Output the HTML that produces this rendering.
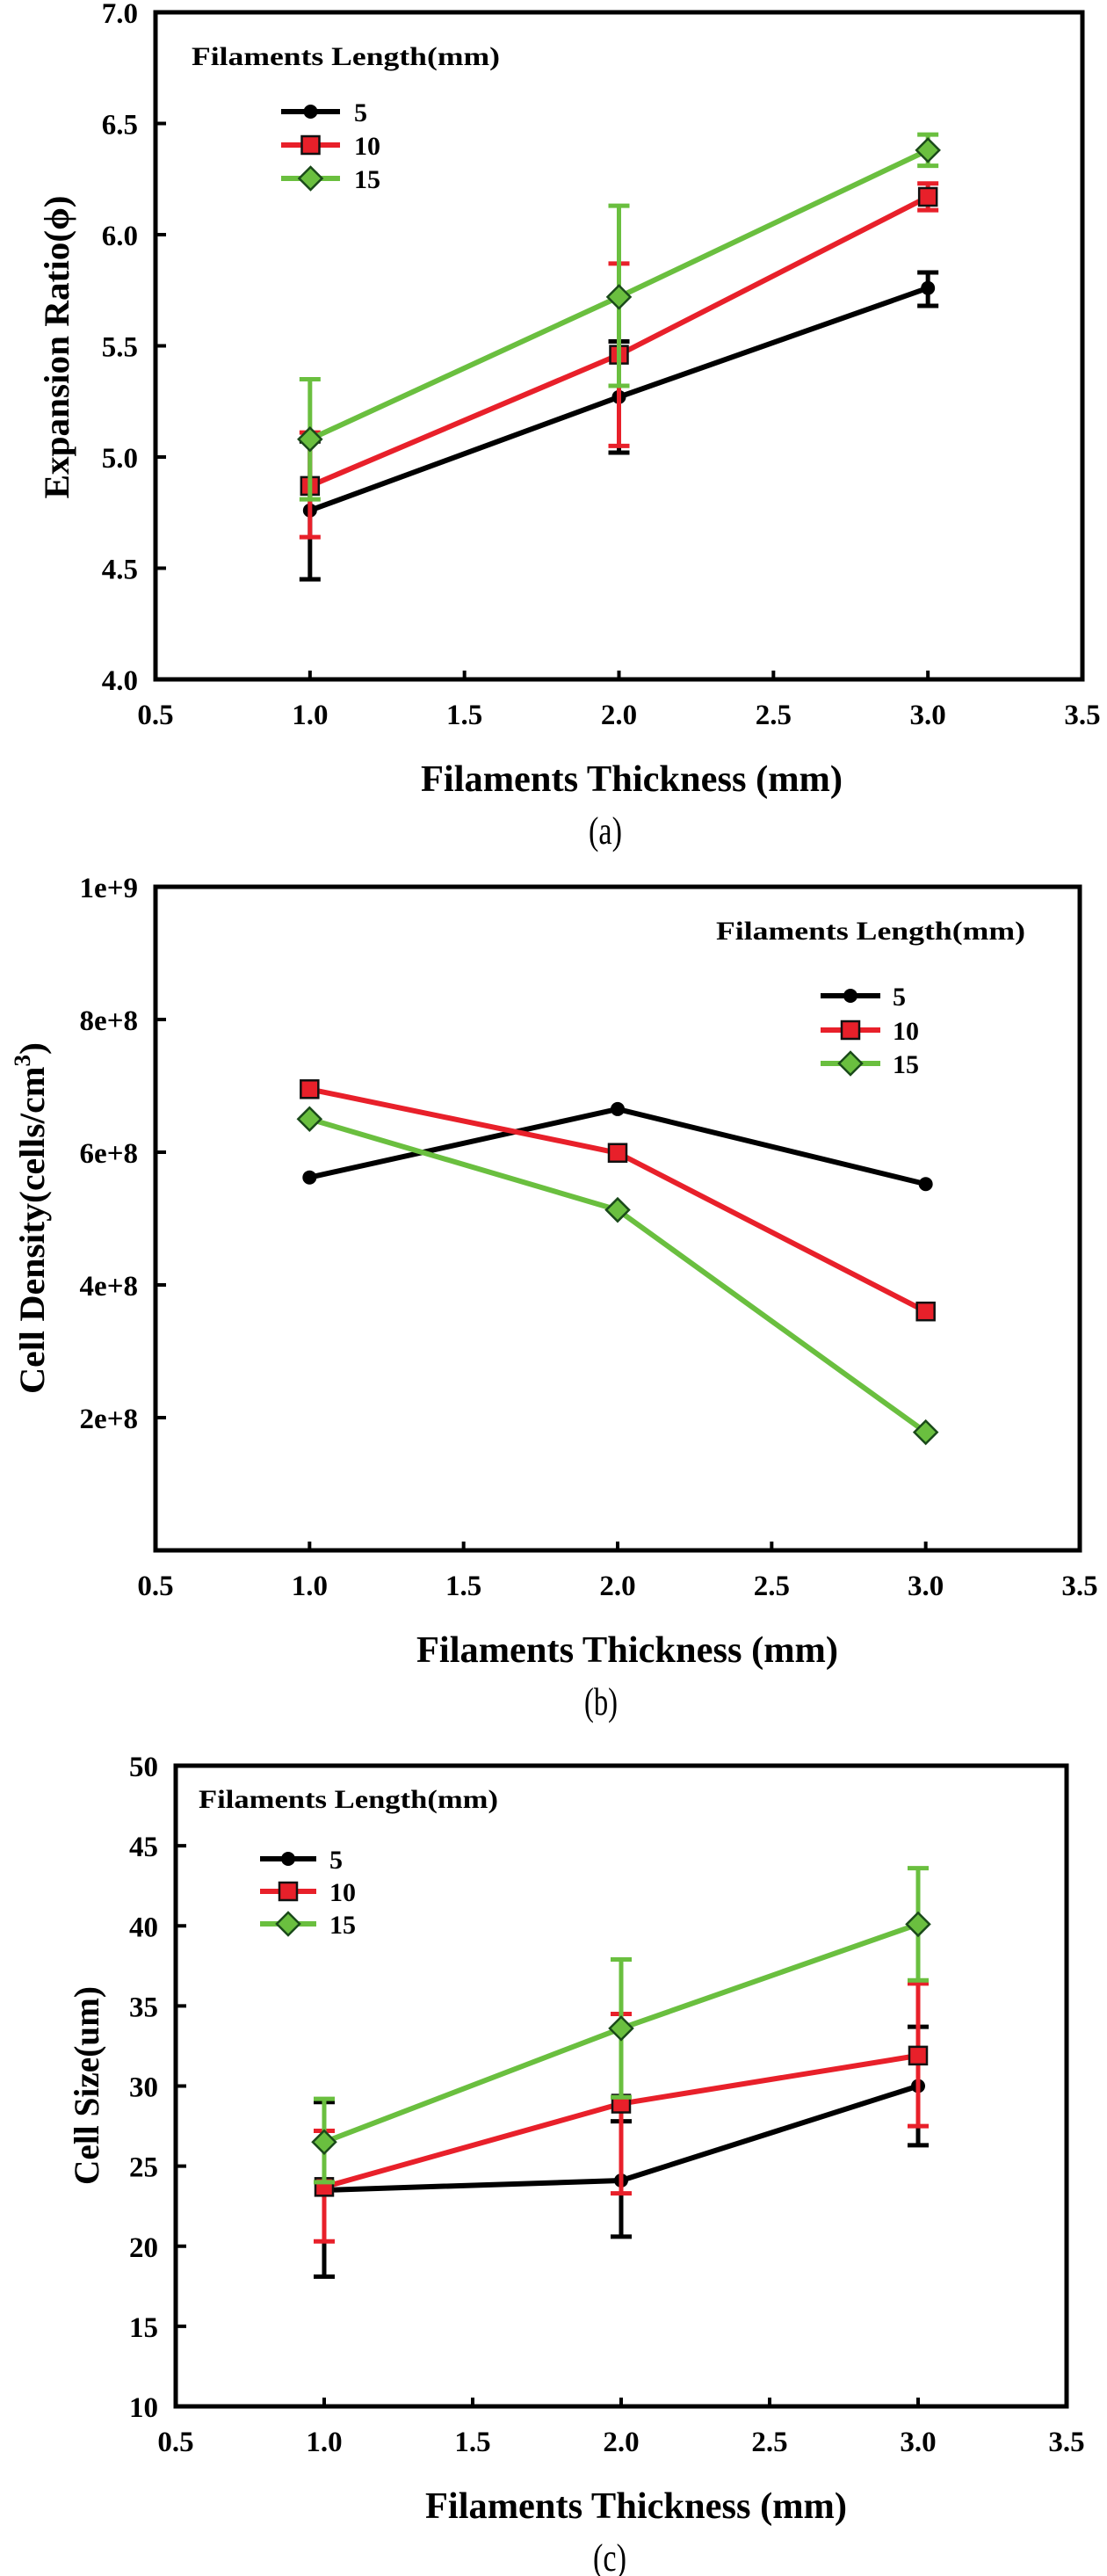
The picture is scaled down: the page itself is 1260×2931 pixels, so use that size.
<!DOCTYPE html>
<html><head><meta charset="utf-8">
<style>
html,body{margin:0;padding:0;background:#fff;}
svg{display:block;}
text{font-family:"Liberation Serif",serif;fill:#000;}
</style></head>
<body>
<svg id="fig" width="1260" height="2931" viewBox="0 0 1260 2931" xmlns="http://www.w3.org/2000/svg"></svg>
<script>
// ---------- data ----------
const xCats = [1.0, 2.0, 3.0];
const xTickVals = [0.5, 1.0, 1.5, 2.0, 2.5, 3.0, 3.5];
const xTickLabels = ["0.5","1.0","1.5","2.0","2.5","3.0","3.5"];
const seriesNames = ["5","10","15"];

// (a) Expansion ratio
const aBlack = [4.76, 5.27, 5.76];
const aBlackLo = [4.45, 5.02, 5.68];
const aBlackHi = [5.07, 5.52, 5.83];
const aRed = [4.87, 5.46, 6.17];
const aRedLo = [4.64, 5.05, 6.11];
const aRedHi = [5.11, 5.87, 6.23];
const aGreen = [5.08, 5.72, 6.38];
const aGreenLo = [4.81, 5.32, 6.31];
const aGreenHi = [5.35, 6.13, 6.45];
const aYTicks = [4.0, 4.5, 5.0, 5.5, 6.0, 6.5, 7.0];
const aYLabels = ["4.0","4.5","5.0","5.5","6.0","6.5","7.0"];

// (b) Cell density
const bBlack = [5.62e8, 6.65e8, 5.52e8];
const bRed = [6.95e8, 5.99e8, 3.60e8];
const bGreen = [6.50e8, 5.13e8, 1.78e8];
const bYTicks = [2e8, 4e8, 6e8, 8e8, 1e9];
const bYLabels = ["2e+8","4e+8","6e+8","8e+8","1e+9"];

// (c) Cell size
const cBlack = [23.5, 24.1, 30.0];
const cBlackLo = [18.1, 20.6, 26.3];
const cBlackHi = [29.0, 27.8, 33.7];
const cRed = [23.7, 28.9, 31.9];
const cRedLo = [20.3, 23.3, 27.5];
const cRedHi = [27.2, 34.5, 36.4];
const cGreen = [26.5, 33.6, 40.1];
const cGreenLo = [24.0, 29.3, 36.6];
const cGreenHi = [29.2, 37.9, 43.6];
const cYTicks = [10, 15, 20, 25, 30, 35, 40, 45, 50];
const cYLabels = ["10","15","20","25","30","35","40","45","50"];

const BLACK="#000", RED="#e8202a", GREEN="#6abf3f";
const NS="http://www.w3.org/2000/svg";
const svg=document.getElementById('fig');

function mk(tag, attrs, parent){
  const e=document.createElementNS(NS,tag);
  for(const k in attrs) e.setAttribute(k, attrs[k]);
  (parent||svg).appendChild(e);
  return e;
}

function panel(cfg){
  const g=mk('g',{});
  
  
  const L=cfg.L,R=cfg.R,T=cfg.T,B=cfg.B;
  const xs=v=>L+(v-0.5)/3*(R-L);
  const ys=v=>B-(v-cfg.ymin)/(cfg.ymax-cfg.ymin)*(B-T);
  const frame=mk('rect',{x:L,y:T,width:R-L,height:B-T,fill:'none',stroke:'#000','stroke-width':5},g);
  
  
  xTickVals.forEach((v,i)=>{
    const t=mk('line',{x1:xs(v),x2:xs(v),y1:B,y2:B-10,stroke:'#000','stroke-width':4},g);
    
    
    const tl=mk('text',{x:xs(v),y:B+51,'text-anchor':'middle','font-size':33,'font-weight':'bold'},g);
    tl.textContent=xTickLabels[i];
    
    
  });
  cfg.yTicks.forEach((v,i)=>{
    const t=mk('line',{x1:L,x2:L+12,y1:ys(v),y2:ys(v),stroke:'#000','stroke-width':4},g);
    
    
    const tl=mk('text',{x:L-20,y:ys(v)+12,'text-anchor':'end','font-size':33,'font-weight':'bold'},g);
    tl.textContent=cfg.yLabels[i];
    
    
  });
  const xt=mk('text',{x:cfg.xtX,y:B+127,'text-anchor':'middle','font-size':42,'font-weight':'bold',textLength:480,lengthAdjust:'spacingAndGlyphs'},g);
  xt.textContent='Filaments Thickness (mm)';
  
  
  const yt=mk('text',{x:0,y:0,'text-anchor':'middle','font-size':40,'font-weight':'bold',transform:`translate(${cfg.ytX},${cfg.ytY}) rotate(-90)`,textLength:cfg.ytLen,lengthAdjust:'spacingAndGlyphs'},g);
  yt.innerHTML=cfg.ytitle;
  
  
  const pl=mk('text',{x:cfg.xtX-30,y:B+187,'text-anchor':'middle','font-size':44,textLength:38,lengthAdjust:'spacingAndGlyphs'},g);
  pl.textContent=cfg.panelLabel;
  
  
  const colors=[BLACK,RED,GREEN];
  const markers=['circle','square','diamond'];
  cfg.series.forEach((s,si)=>{
    const sg=mk('g',{},g);
    
    
    const col=colors[si];
    const pts=s.vals.map((v,i)=>xs(xCats[i])+','+ys(v)).join(' ');
    const line=mk('polyline',{points:pts,fill:'none',stroke:col,'stroke-width':6,'stroke-linejoin':'round'},sg);
    
    
    if(s.lo){
      s.vals.forEach((v,i)=>{
        const x=xs(xCats[i]);
        const eb=mk('path',{d:`M${x},${ys(s.lo[i])}V${ys(s.hi[i])}M${x-12},${ys(s.lo[i])}h24M${x-12},${ys(s.hi[i])}h24`,stroke:col,'stroke-width':5,fill:'none'},sg);
        
        
      });
    }
    s.vals.forEach((v,i)=>{
      const m=marker(sg,markers[si],xs(xCats[i]),ys(v),col);
      
      
    });
  });
  const lg=mk('g',{},g);
  
  
  const lt=mk('text',{x:cfg.leg.tx,y:cfg.leg.ty+10,'font-size':30,'font-weight':'bold',textLength:cfg.leg.tw,lengthAdjust:'spacingAndGlyphs'},lg);
  lt.textContent='Filaments Length(mm)';
  
  
  seriesNames.forEach((n,i)=>{
    const y=cfg.leg.ys[i];
    const eg=mk('g',{},lg);
    
    
    mk('line',{x1:cfg.leg.x1,x2:cfg.leg.x2,y1:y,y2:y,stroke:colors[i],'stroke-width':6},eg);
    marker(eg,markers[i],(cfg.leg.x1+cfg.leg.x2)/2,y,colors[i]);
    const et=mk('text',{x:cfg.leg.lx,y:y+11,'font-size':30,'font-weight':'bold'},eg);
    et.textContent=n;
  });
}
function marker(p,type,x,y,col){
  if(type==='circle') return mk('circle',{cx:x,cy:y,r:8,fill:'#000'},p);
  if(type==='square') return mk('rect',{x:x-10,y:y-10,width:20,height:20,fill:RED,stroke:'#111','stroke-width':2.5},p);
  return mk('path',{d:`M${x},${y-13}L${x+13},${y}L${x},${y+13}L${x-13},${y}Z`,fill:GREEN,stroke:'#1a4a1a','stroke-width':2.5},p);
}

panel({name:'chart-a-expansion-ratio',L:177,R:1232,T:14,B:773,ymin:4,ymax:7,
  yTicks:aYTicks,yLabels:aYLabels,xtX:719,ytX:78,ytY:395,ytLen:345,ytitle:'Expansion Ratio(ϕ)',panelLabel:'(a)',
  series:[{vals:aBlack,lo:aBlackLo,hi:aBlackHi},{vals:aRed,lo:aRedLo,hi:aRedHi},{vals:aGreen,lo:aGreenLo,hi:aGreenHi}],
  leg:{tx:218,ty:64,tw:351,x1:320,x2:387,lx:403,ys:[127,165,203]}});

panel({name:'chart-b-cell-density',L:177,R:1229,T:1009,B:1764,ymin:0,ymax:1e9,
  yTicks:bYTicks,yLabels:bYLabels,xtX:714,ytX:50,ytY:1386,ytLen:400,ytitle:'Cell Density(cells/cm<tspan dy="-16" font-size="26">3</tspan><tspan dy="16">)</tspan>',panelLabel:'(b)',
  series:[{vals:bBlack},{vals:bRed},{vals:bGreen}],
  leg:{tx:815,ty:1059,tw:352,x1:934,x2:1002,lx:1016,ys:[1133,1172,1210]}});

panel({name:'chart-c-cell-size',L:200,R:1214,T:2009,B:2738,ymin:10,ymax:50,
  yTicks:cYTicks,yLabels:cYLabels,xtX:724,ytX:112,ytY:2373,ytLen:226,ytitle:'Cell Size(um)',panelLabel:'(c)',
  series:[{vals:cBlack,lo:cBlackLo,hi:cBlackHi},{vals:cRed,lo:cRedLo,hi:cRedHi},{vals:cGreen,lo:cGreenLo,hi:cGreenHi}],
  leg:{tx:226,ty:2047,tw:341,x1:296,x2:360,lx:375,ys:[2115,2152,2189]}});
</script>
</body></html>
